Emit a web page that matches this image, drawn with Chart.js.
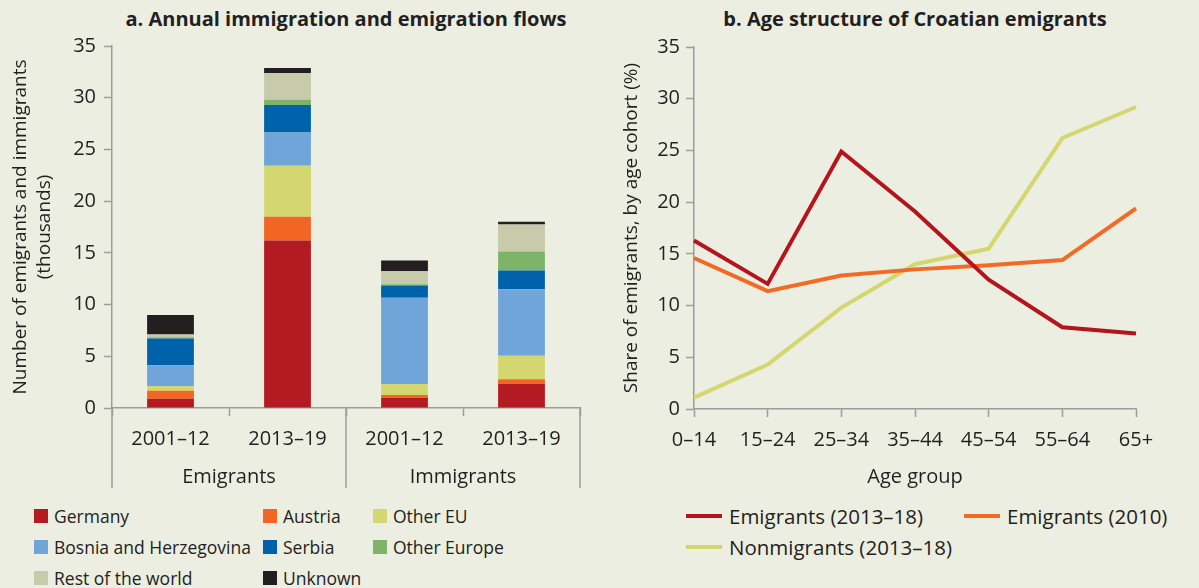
<!DOCTYPE html>
<html>
<head>
<meta charset="utf-8">
<script src="https://cdn.jsdelivr.net/npm/chart.js@4.4.1/dist/chart.umd.min.js"></script>
<style>
  body { margin: 0; width: 1199px; height: 588px; overflow: hidden; background: #EBEEE0;
         font-family: "Open Sans", sans-serif; color: #231F20; position: relative; }
  canvas { position: absolute; top: 0; }
  #flows { left: 0; }
  #ages { left: 600px; }
  .title { position: absolute; top: 5px; font-weight: bold; font-size: 20px; transform: translateX(-50%); white-space: nowrap; }
  .legend { position: absolute; font-size: 17.5px; display: grid; row-gap: 7px; }
  .legend div { display: flex; align-items: center; height: 24px; white-space: nowrap; }
  .legend span.box { width: 14px; height: 14px; margin-right: 6px; flex: none; }
  .legend span.line { width: 36px; height: 4px; margin-right: 7px; flex: none; }
  #ageLegend { font-size: 20.5px; }
</style>
</head>
<body>
<div class="title" style="left:346px">a. Annual immigration and emigration flows</div>
<div class="title" style="left:915px">b. Age structure of Croatian emigrants</div>
<canvas id="flows" width="600" height="500"></canvas>
<canvas id="ages" width="599" height="500"></canvas>
<div class="legend" id="flowLegend" style="left:34px; top:504px; grid-template-columns:229px 110px 200px;"></div>
<div class="legend" id="ageLegend" style="left:686px; top:504px; grid-template-columns:278px 240px;"></div>
<script>
// panel a: annual flows, thousands
const periods = ['2001–12', '2013–19', '2001–12', '2013–19'];
const groups = ['Emigrants', 'Immigrants'];
const germany     = [0.9, 16.2, 1.0, 2.35];
const austria     = [0.77, 2.3, 0.26, 0.43];
const otherEU     = [0.46, 4.93, 1.06, 2.28];
const bosnia      = [2.0, 3.2, 8.33, 6.43];
const serbia      = [2.58, 2.67, 1.19, 1.8];
const otherEurope = [0.13, 0.5, 0.13, 1.84];
const restOfWorld = [0.26, 2.6, 1.26, 2.61];
const unknown     = [1.9, 0.48, 1.03, 0.26];

// panel b: share of emigrants by age cohort (%)
const ageGroups = ['0–14', '15–24', '25–34', '35–44', '45–54', '55–64', '65+'];
const emigrants1318   = [16.3, 12.1, 24.9, 19.1, 12.5, 7.9, 7.3];
const emigrants2010   = [14.6, 11.4, 12.9, 13.5, 13.9, 14.4, 19.4];
const nonmigrants1318 = [1.1, 4.3, 9.8, 14.0, 15.5, 26.2, 29.2];

const yMax = 35, yStep = 5;
const axisColor = '#9c9c9c';
const textColor = '#231F20';
const tickFont = { size: 20 };
const yTitleFont = { size: 19, lineHeight: 1.3 };

Chart.defaults.font.family = '"Open Sans", sans-serif';
Chart.defaults.font.size = 20;
Chart.defaults.color = textColor;

const barSets = [
  { label: 'Germany', data: germany, color: '#B41A22' },
  { label: 'Austria', data: austria, color: '#F26522' },
  { label: 'Other EU', data: otherEU, color: '#D4D76F' },
  { label: 'Bosnia and Herzegovina', data: bosnia, color: '#6FA5D8' },
  { label: 'Serbia', data: serbia, color: '#0062AB' },
  { label: 'Other Europe', data: otherEurope, color: '#7DB46A' },
  { label: 'Rest of the world', data: restOfWorld, color: '#C8CBAB' },
  { label: 'Unknown', data: unknown, color: '#231F20' }
];

// long separator lines between the Emigrants / Immigrants groups
const groupLines = {
  id: 'groupLines',
  afterDraw(chart) {
    const x = chart.scales.x, x2 = chart.scales.x2, ctx = chart.ctx;
    const mid = (x.getPixelForTick(1) + x.getPixelForTick(2)) / 2;
    ctx.save();
    ctx.strokeStyle = axisColor;
    ctx.lineWidth = 1.5;
    [x.left, mid, x.right].forEach(px => {
      ctx.beginPath();
      ctx.moveTo(px, x.top);
      ctx.lineTo(px, x2.bottom);
      ctx.stroke();
    });
    ctx.restore();
  }
};

new Chart(document.getElementById('flows'), {
  type: 'bar',
  data: {
    labels: periods,
    datasets: barSets.map(s => ({
      label: s.label, data: s.data, backgroundColor: s.color,
      categoryPercentage: 1, barPercentage: 0.4
    }))
  },
  options: {
    responsive: false,
    animation: false,
    layout: { padding: { top: 46, right: 20, bottom: 12, left: 0 } },
    plugins: { legend: { display: false }, tooltip: { enabled: false } },
    scales: {
      x: {
        stacked: true,
        grid: { drawOnChartArea: false, tickLength: 8, tickColor: axisColor, tickWidth: 1.5, offset: true },
        border: { color: axisColor, width: 1.5 },
        ticks: { padding: 11, color: textColor, font: tickFont },
        afterFit: s => { s.height = 44; }
      },
      x2: {
        type: 'category',
        labels: groups,
        offset: true,
        position: 'bottom',
        grid: { display: false, drawTicks: false },
        border: { display: false },
        ticks: { padding: 13, color: textColor, font: tickFont },
        afterFit: s => { s.height = 36; }
      },
      y: {
        stacked: true,
        min: 0, max: yMax,
        ticks: { stepSize: yStep, padding: 8, color: textColor, font: tickFont },
        grid: { drawOnChartArea: false, tickLength: 8, tickColor: axisColor, tickWidth: 1.5 },
        border: { color: axisColor, width: 1.5 },
        title: { display: true, text: ['Number of emigrants and immigrants', '(thousands)'], padding: { top: 8 }, color: textColor, font: yTitleFont },
        afterFit: s => { s.width = 112; }
      }
    }
  },
  plugins: [groupLines]
});

const lineSets = [
  { label: 'Emigrants (2013–18)', data: emigrants1318, color: '#B5141D' },
  { label: 'Emigrants (2010)', data: emigrants2010, color: '#F26A24' },
  { label: 'Nonmigrants (2013–18)', data: nonmigrants1318, color: '#D4D76F' }
];

new Chart(document.getElementById('ages'), {
  type: 'line',
  data: {
    labels: ageGroups,
    datasets: lineSets.map(s => ({
      label: s.label, data: s.data, borderColor: s.color, backgroundColor: s.color,
      borderWidth: 4, pointRadius: 0, tension: 0
    }))
  },
  options: {
    responsive: false,
    animation: false,
    layout: { padding: { top: 47, right: 63, bottom: 11, left: 0 } },
    plugins: { legend: { display: false }, tooltip: { enabled: false } },
    scales: {
      x: {
        grid: { drawOnChartArea: false, tickLength: 8, tickColor: axisColor, tickWidth: 1.5 },
        border: { color: axisColor, width: 1.5 },
        ticks: { padding: 11, color: textColor, maxRotation: 0, font: tickFont },
        title: { display: true, text: 'Age group', padding: { bottom: 0 }, color: textColor, font: { size: 20 } },
        afterFit: s => { s.height = 80; }
      },
      y: {
        min: 0, max: yMax,
        ticks: { stepSize: yStep, padding: 6, color: textColor, font: tickFont },
        grid: { drawOnChartArea: false, tickLength: 8, tickColor: axisColor, tickWidth: 1.5 },
        border: { color: axisColor, width: 1.5 },
        title: { display: true, text: 'Share of emigrants, by age cohort (%)', padding: { top: 19 }, color: textColor, font: yTitleFont },
        afterFit: s => { s.width = 94; }
      }
    }
  }
});

// html legends, built from the same series lists
const flowLegend = document.getElementById('flowLegend');
barSets.forEach(s => {
  const d = document.createElement('div');
  d.innerHTML = '<span class="box" style="background:' + s.color + '"></span>' + s.label;
  flowLegend.appendChild(d);
});
const ageLegend = document.getElementById('ageLegend');
lineSets.forEach(s => {
  const d = document.createElement('div');
  d.innerHTML = '<span class="line" style="background:' + s.color + '"></span>' + s.label;
  ageLegend.appendChild(d);
});
</script>
</body>
</html>
